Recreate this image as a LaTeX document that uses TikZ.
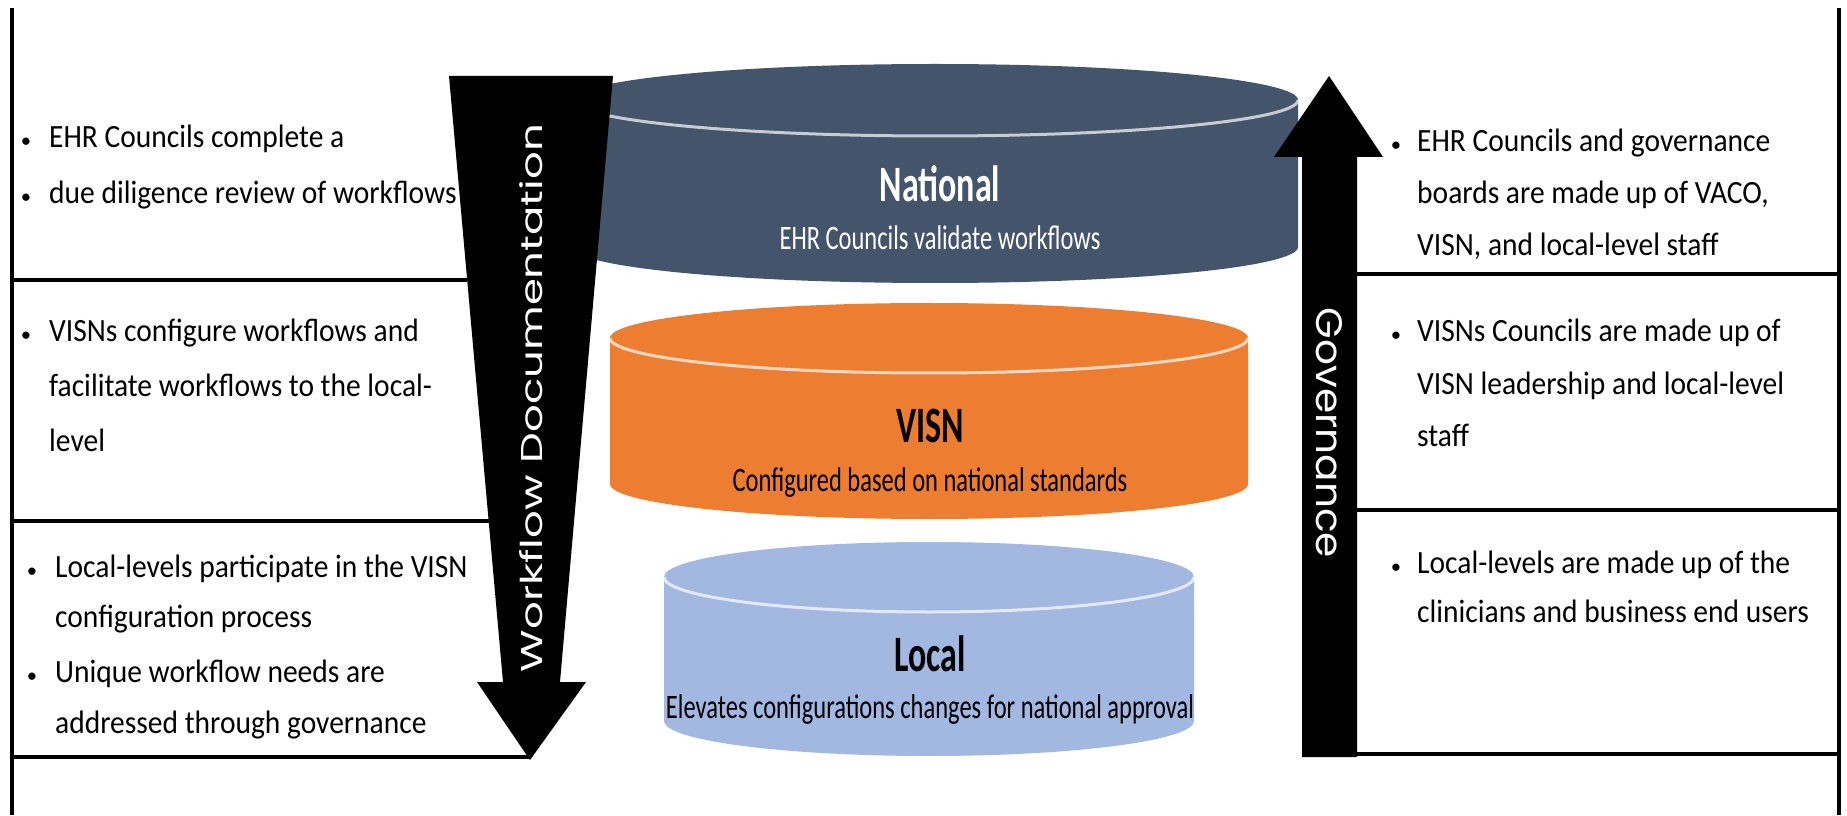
\documentclass[tikz,border=0pt]{standalone}
\usepackage{fontspec}
\usepackage{graphicx}
\setmainfont{Carlito}
\newfontfamily\arrowfont{Poppins}
\definecolor{natblue}{HTML}{44546A}
\definecolor{visnorange}{HTML}{ED7D31}
\definecolor{localblue}{HTML}{A2B8E1}
\newcommand\tallline[1]{\scalebox{1}[1.1]{#1}}
\newcommand\smallbullet{\scalebox{0.7}{•}}
\begin{document}
\begin{tikzpicture}[x=1pt,y=1pt,
  frameline/.style={line width=3.5pt, black},
  bodytxt/.style={anchor=base west, inner sep=0pt, font=\fontsize{29.5}{35}\selectfont},
  bul/.style={anchor=base, inner sep=0pt, font=\fontsize{29.5}{35}\selectfont},
  ttl/.style={anchor=base, inner sep=0pt, font=\fontsize{34}{40}\selectfont\bfseries},
  subtxt/.style={anchor=base, inner sep=0pt, font=\fontsize{24.5}{30}\selectfont},
  rim/.style={line width=3pt, white, opacity=0.7},
  arrowtxt/.style={inner sep=0pt, text=white}]
\useasboundingbox (0,0) rectangle (1847,815);
\fill[white] (0,0) rectangle (1847,815);

% ---------- cylinders ----------
% National
\fill[natblue] (572,715) -- (572,568) arc[start angle=180,end angle=360,x radius=363,y radius=36]
  -- (1298,715) arc[start angle=0,end angle=180,x radius=363,y radius=36] -- cycle;
\draw[rim] (572,715) arc[start angle=180,end angle=360,x radius=363,y radius=36];
% VISN
\fill[visnorange] (610,477) -- (610,331) arc[start angle=180,end angle=360,x radius=319,y radius=35]
  -- (1248,477) arc[start angle=0,end angle=180,x radius=319,y radius=35] -- cycle;
\draw[rim] (610,477) arc[start angle=180,end angle=360,x radius=319,y radius=35];
% Local
\fill[localblue] (664,238) -- (664,94) arc[start angle=180,end angle=360,x radius=265,y radius=35]
  -- (1194,238) arc[start angle=0,end angle=180,x radius=265,y radius=35] -- cycle;
\draw[rim] (664,238) arc[start angle=180,end angle=360,x radius=265,y radius=35];

\node[ttl, text=white] (natT) at (940,613) {\scalebox{1}[1.5]{National}};
\node[subtxt, text=white] (natS) at (940,565) {\scalebox{1}[1.4]{EHR Councils validate workflows}};
\node[ttl] (visT) at (930,372) {\scalebox{1}[1.5]{VISN}};
\node[subtxt] (visS) at (930,324) {\scalebox{1}[1.4]{Configured based on national standards}};
\node[ttl] (locT) at (930,144) {\scalebox{1}[1.5]{Local}};
\node[subtxt] (locS) at (930,97) {\scalebox{1}[1.4]{Elevates configurations changes for national approval}};

% ---------- arrows ----------
\coordinate (wa1) at (449,739);
\coordinate (wa2) at (613,739);
\coordinate (wa3) at (560,133);
\coordinate (wa4) at (586,133);
\coordinate (wa5) at (530,55);
\coordinate (wa6) at (477,133);
\coordinate (wa7) at (503,133);
\fill[black] (wa1) -- (wa2) -- (wa3) -- (wa4) -- (wa5) -- (wa6) -- (wa7) -- cycle;
\node[arrowtxt, rotate=90] (wfT) at (531,417) {\resizebox{548pt}{23pt}{\arrowfont Workflow Documentation}};

\coordinate (ga1) at (1329,739);
\coordinate (ga2) at (1383,658);
\coordinate (ga3) at (1357,658);
\coordinate (ga4) at (1357,58);
\coordinate (ga5) at (1302,58);
\coordinate (ga6) at (1302,658);
\coordinate (ga7) at (1274,658);
\fill[black] (ga1) -- (ga2) -- (ga3) -- (ga4) -- (ga5) -- (ga6) -- (ga7) -- cycle;
\node[arrowtxt, rotate=-90] (gvT) at (1329,382) {\resizebox{250pt}{26pt}{\arrowfont Governance}};

% ---------- frame ----------
\coordinate (lt) at (12,807);
\coordinate (lb) at (12,0);
\coordinate (rt) at (1839,807);
\coordinate (rb) at (1839,0);
\draw[frameline] (lt) -- (lb);
\draw[frameline] (rt) -- (rb);
\coordinate (l1a) at (12,535);  \coordinate (l1b) at (467,535);
\coordinate (l2a) at (12,294);  \coordinate (l2b) at (489,294);
\coordinate (l3a) at (12,58);   \coordinate (l3b) at (529,58);
\draw[frameline] (l1a) -- (l1b);
\draw[frameline] (l2a) -- (l2b);
\draw[frameline] (l3a) -- (l3b);
\coordinate (r1a) at (1357,541); \coordinate (r1b) at (1839,541);
\coordinate (r2a) at (1357,305); \coordinate (r2b) at (1839,305);
\coordinate (r3a) at (1357,61);  \coordinate (r3b) at (1839,61);
\draw[frameline] (r1a) -- (r1b);
\draw[frameline] (r2a) -- (r2b);
\draw[frameline] (r3a) -- (r3b);

% ---------- left texts ----------
\node[bul] (lb1) at (26,667) {\smallbullet};
\node[bodytxt] (lt1) at (49,667) {\tallline{EHR Councils complete a}};
\node[bul] (lb2) at (26,611) {\smallbullet};
\node[bodytxt] (lt2) at (49,611) {\tallline{due diligence review of workflows}};

\node[bul] (lb3) at (26,473) {\smallbullet};
\node[bodytxt] (lt3) at (49,473) {\tallline{VISNs configure workflows and}};
\node[bodytxt] (lt4) at (49,418) {\tallline{facilitate workflows to the local-}};
\node[bodytxt] (lt5) at (49,363) {\tallline{level}};

\node[bul] (lb6) at (32,238) {\smallbullet};
\node[bodytxt] (lt6) at (55,238) {\tallline{Local-levels participate in the VISN}};
\node[bodytxt] (lt7) at (55,188) {\tallline{configuration process}};
\node[bul] (lb8) at (32,133) {\smallbullet};
\node[bodytxt] (lt8) at (55,133) {\tallline{Unique workflow needs are}};
\node[bodytxt] (lt9) at (55,82) {\tallline{addressed through governance}};

% ---------- right texts ----------
\node[bul] (rb1) at (1396,663) {\smallbullet};
\node[bodytxt] (rt1) at (1417,663) {\tallline{EHR Councils and governance}};
\node[bodytxt] (rt2) at (1417,611) {\tallline{boards are made up of VACO,}};
\node[bodytxt] (rt3) at (1417,559) {\tallline{VISN, and local-level staff}};

\node[bul] (rb4) at (1396,473) {\smallbullet};
\node[bodytxt] (rt4) at (1417,473) {\tallline{VISNs Councils are made up of}};
\node[bodytxt] (rt5) at (1417,420) {\tallline{VISN leadership and local-level}};
\node[bodytxt] (rt6) at (1417,368) {\tallline{staff}};

\node[bul] (rb7) at (1396,242) {\smallbullet};
\node[bodytxt] (rt7) at (1417,242) {\tallline{Local-levels are made up of the}};
\node[bodytxt] (rt8) at (1417,193) {\tallline{clinicians and business end users}};
\end{tikzpicture}
\end{document}
